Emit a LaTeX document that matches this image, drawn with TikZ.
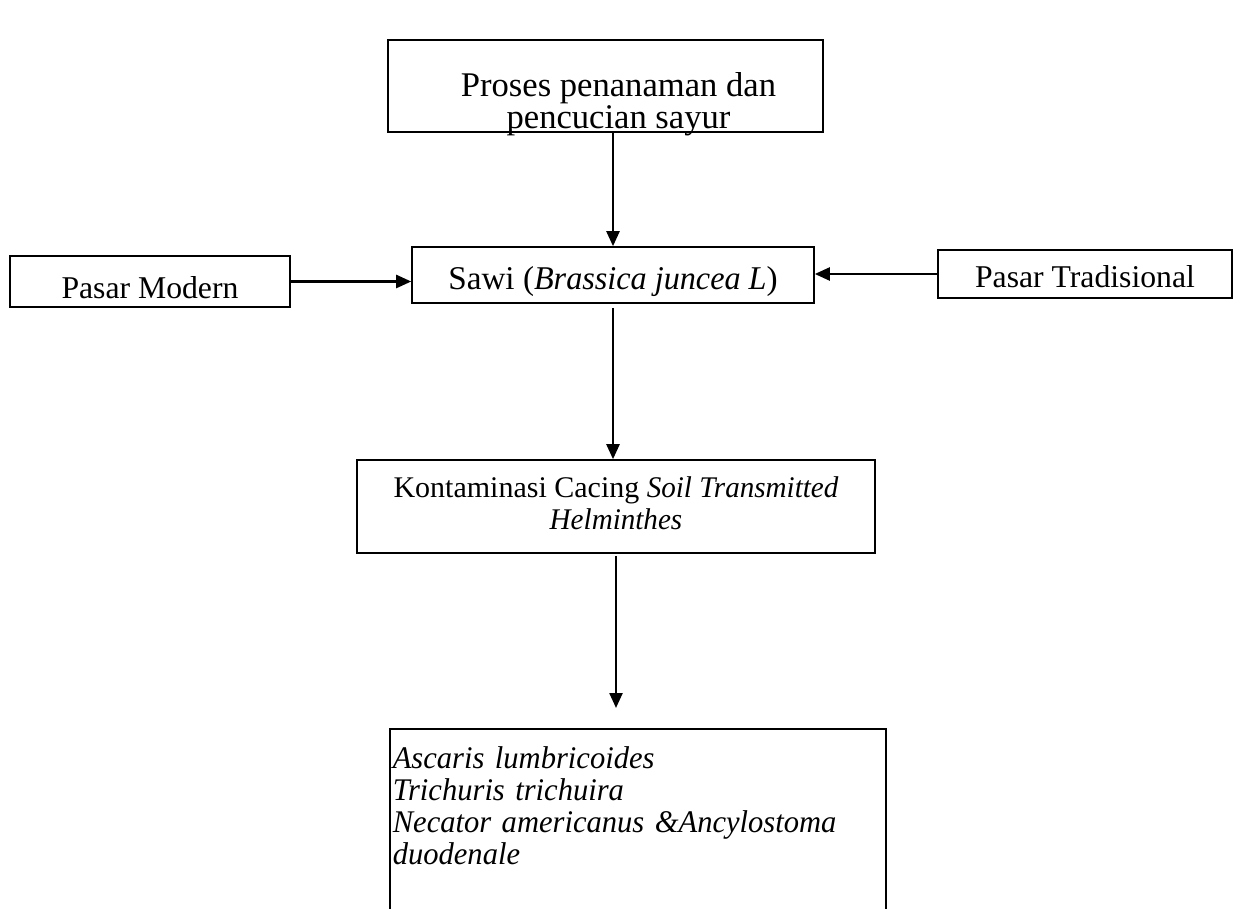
\documentclass[tikz,border=0pt]{standalone}
\usepackage{fontspec}
\setmainfont{Liberation Serif}[ItalicFeatures={FakeStretch=0.97}]
\usetikzlibrary{arrows.meta}
\begin{document}
\begin{tikzpicture}[x=0.5pt,y=-0.5pt,
  box/.style={draw, line width=0.8pt, inner sep=0pt, align=center, font=\fontsize{15.85}{16}\selectfont},
  arr/.style={line width=1.2pt, -{Triangle[length=7.5pt,width=6.5pt]}}]
\clip (0,0) rectangle (1242,909);
\node[box, minimum width=217.5pt, minimum height=46pt, font=\fontsize{17.3}{16}\selectfont] (top) at (605.5,86) {\rule{0pt}{26.2pt}\hspace*{13pt}Proses penanaman dan\\\hspace*{13pt}\smash{pencucian sayur}};
\node[box, minimum width=140pt, minimum height=25.5pt] (pm) at (150,281.5) {\rule{0pt}{16.8pt}Pasar Modern};
\node[box, minimum width=201pt, minimum height=28pt, font=\fontsize{16.6}{16}\selectfont] (sawi) at (613,275) {\rule{0pt}{17.8pt}Sawi (\textit{Brassica juncea L})};
\node[box, minimum width=147pt, minimum height=24pt] (pt) at (1085,274) {\rule{0pt}{13.8pt}Pasar Tradisional};
\node[box, minimum width=259pt, minimum height=46.5pt, font=\fontsize{15}{16}\selectfont] (kont) at (616,506.5) {Kontaminasi Cacing \textit{Soil Transmitted}\\\textit{Helminthes}\rule[-3pt]{0pt}{0pt}};
\node[box, anchor=north west, align=left, text width=245pt, inner xsep=1.5pt, inner ysep=9pt, text depth=100pt, font=\fontsize{15.75}{16}\selectfont\itshape] (res) at (389,728) {Ascaris lumbricoides\\Trichuris trichuira\\Necator americanus \&Ancylostoma\\duodenale};
\draw[arr] (sawi.north |- top.south) -- (sawi.north);
\draw[arr] (pm.east) -- (pm.east -| sawi.west);
\draw[arr] (pt.west) -- (pt.west -| sawi.east);
\draw[arr, shorten <=2pt] (sawi.south) -- (sawi.south |- kont.north);
\draw[arr, shorten <=1pt, shorten >=10pt] (kont.south) -- (kont.south |- res.north);
\end{tikzpicture}
\end{document}
